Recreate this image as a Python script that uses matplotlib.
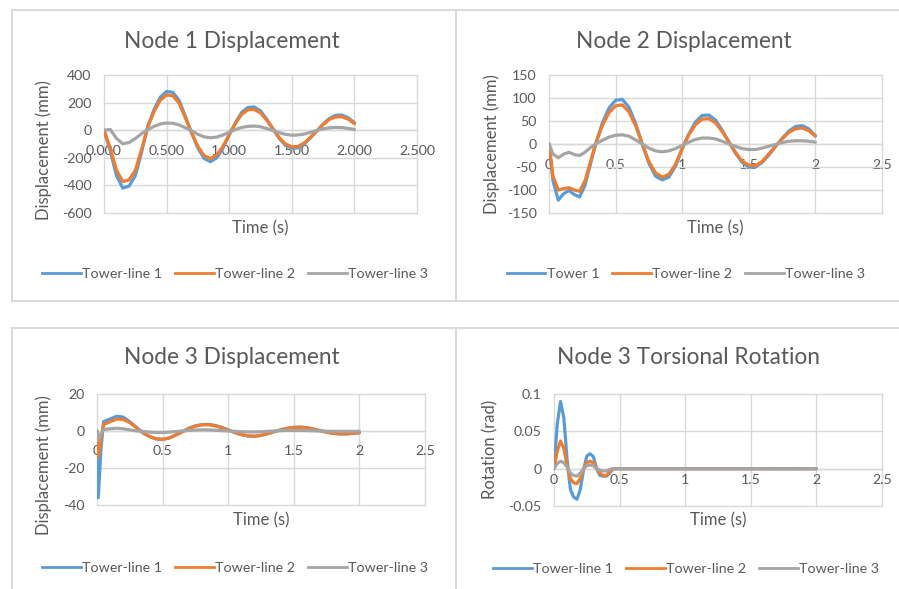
import matplotlib
matplotlib.use("Agg")
import matplotlib.pyplot as plt
from matplotlib.patches import Rectangle
from matplotlib.lines import Line2D
from matplotlib.ticker import FuncFormatter

plt.rcParams['font.family'] = ['Lato', 'DejaVu Sans']
plt.rcParams['axes.unicode_minus'] = False

W, H = 899, 589

# ---------------- data ----------------
series_names_a = ["Tower-line 1", "Tower-line 2", "Tower-line 3"]
series_names_b = ["Tower 1", "Tower-line 2", "Tower-line 3"]

t_node1 = [0.00, 0.05, 0.10, 0.15, 0.20, 0.25, 0.30, 0.35, 0.40, 0.45,
           0.50, 0.55, 0.60, 0.65, 0.70, 0.75, 0.80, 0.85, 0.90, 0.95,
           1.00, 1.05, 1.10, 1.15, 1.20, 1.25, 1.30, 1.35, 1.40, 1.45,
           1.50, 1.55, 1.60, 1.65, 1.70, 1.75, 1.80, 1.85, 1.90, 1.95, 2.00]
n1_tl1 = [0, -150, -330, -420, -405, -330, -160, 30, 150, 240,
          280, 275, 215, 100, -20, -130, -205, -228, -200, -130,
          -35, 55, 130, 165, 168, 140, 80, 10, -60, -110,
          -130, -128, -100, -55, -5, 45, 85, 108, 110, 90, 55]
n1_tl2 = [0, -130, -290, -372, -360, -290, -140, 25, 135, 218,
          255, 250, 195, 90, -20, -118, -185, -205, -180, -117,
          -32, 50, 115, 148, 150, 125, 72, 8, -55, -100,
          -120, -118, -92, -50, -5, 40, 78, 96, 97, 80, 48]
n1_tl3 = [0, 5, -60, -98, -90, -60, -25, 5, 28, 45,
          52, 50, 38, 18, -5, -30, -48, -55, -50, -35,
          -15, 5, 20, 28, 30, 25, 12, -3, -18, -30,
          -36, -35, -28, -15, -2, 10, 17, 20, 19, 13, 5]

t_node2 = [0.00, 0.03, 0.07, 0.11, 0.15, 0.19, 0.23, 0.27, 0.31, 0.35,
           0.40, 0.45, 0.50, 0.55, 0.60, 0.65, 0.70, 0.75, 0.80, 0.85,
           0.90, 0.95, 1.00, 1.05, 1.10, 1.15, 1.20, 1.25, 1.30, 1.35,
           1.40, 1.45, 1.50, 1.55, 1.60, 1.65, 1.70, 1.75, 1.80, 1.85,
           1.90, 1.95, 2.00]
n2_tl1 = [0, -80, -122, -108, -101, -110, -115, -90, -45, 0,
          45, 78, 95, 97, 80, 45, 0, -42, -70, -78,
          -72, -48, -10, 22, 48, 62, 63, 52, 30, 5,
          -20, -40, -50, -50, -40, -24, -6, 12, 28, 38,
          40, 33, 18]
n2_tl2 = [0, -70, -100, -97, -95, -100, -103, -80, -40, 0,
          40, 68, 83, 85, 70, 40, 0, -38, -63, -72,
          -66, -44, -10, 20, 42, 54, 55, 46, 27, 5,
          -18, -37, -46, -47, -38, -22, -5, 11, 25, 33,
          35, 29, 17]
n2_tl3 = [0, -22, -30, -22, -18, -23, -25, -18, -8, 0,
          8, 15, 19, 20, 17, 9, 0, -9, -15, -17,
          -15, -10, -3, 4, 10, 13, 13, 11, 6, 0,
          -5, -10, -12, -12, -9, -5, -1, 3, 6, 7,
          7, 6, 4]

t_node3 = [0.00, 0.01, 0.03, 0.05, 0.10, 0.15, 0.20, 0.25, 0.30, 0.35,
           0.40, 0.45, 0.50, 0.55, 0.60, 0.65, 0.70, 0.75, 0.80, 0.85,
           0.90, 0.95, 1.00, 1.05, 1.10, 1.15, 1.20, 1.25, 1.30, 1.35,
           1.40, 1.45, 1.50, 1.55, 1.60, 1.65, 1.70, 1.75, 1.80, 1.85,
           1.90, 1.95, 2.00]
n3_tl1 = [0, -36, -10, 5, 6.5, 8, 7.5, 5, 2, -1,
          -3, -4.3, -4.5, -3.8, -2.2, -0.3, 1.5, 2.8, 3.5, 3.6,
          3.0, 2.0, 0.6, -0.8, -2.0, -2.7, -2.9, -2.4, -1.5, -0.4,
          0.6, 1.5, 2.0, 2.1, 1.8, 1.1, 0.2, -0.7, -1.3, -1.6,
          -1.6, -1.3, -1.0]
n3_tl2 = [0, -14, -4, 3.5, 5, 6.5, 6.2, 4.5, 1.8, -1,
          -3, -4.2, -4.5, -3.8, -2.2, -0.5, 1.3, 2.6, 3.3, 3.4,
          2.8, 1.8, 0.5, -0.8, -1.9, -2.6, -2.8, -2.3, -1.4, -0.4,
          0.6, 1.4, 1.9, 2.0, 1.7, 1.0, 0.2, -0.6, -1.2, -1.5,
          -1.5, -1.2, -0.9]
n3_tl3 = [0, -5, -1.5, 0.8, 1.2, 1.5, 1.2, 0.6, 0.1, -0.3,
          -0.6, -0.8, -0.8, -0.6, -0.3, 0, 0.3, 0.5, 0.6, 0.6,
          0.4, 0.2, 0, -0.2, -0.4, -0.5, -0.5, -0.4, -0.2, 0,
          0.2, 0.3, 0.3, 0.3, 0.2, 0.1, 0, -0.1, -0.2, -0.2,
          -0.2, -0.2, -0.1]

t_rot = [0.000, 0.025, 0.050, 0.075, 0.100, 0.125, 0.150, 0.175, 0.200, 0.225,
         0.250, 0.275, 0.300, 0.325, 0.350, 0.375, 0.400, 0.425, 0.450, 0.500, 2.000]
rot_tl1 = [0, 0.06, 0.09, 0.068, 0.012, -0.028, -0.038, -0.041, -0.028, -0.002,
           0.017, 0.02, 0.016, 0.0, -0.009, -0.01, -0.01, -0.006, 0, 0, 0]
rot_tl2 = [0, 0.024, 0.037, 0.027, 0.004, -0.013, -0.019, -0.02, -0.013, 0.0,
           0.008, 0.01, 0.008, 0.0, -0.006, -0.009, -0.009, -0.004, 0, 0, 0]
rot_tl3 = [0, 0.007, 0.01, 0.008, 0.002, -0.006, -0.009, -0.01, -0.006, 0.0,
           0.004, 0.005, 0.004, 0.0, -0.002, -0.003, -0.003, -0.001, 0, 0, 0]

titles = ["Node 1 Displacement", "Node 2 Displacement",
          "Node 3 Displacement", "Node 3 Torsional Rotation"]
ylabels = ["Displacement (mm)", "Displacement (mm)",
           "Displacement (mm)", "Rotation (rad)"]
xlabel = "Time (s)"

xticks_all = [0, 0.5, 1.0, 1.5, 2.0, 2.5]
yticks_n1 = [-600, -400, -200, 0, 200, 400]
yticks_n2 = [-150, -100, -50, 0, 50, 100, 150]
yticks_n3 = [-40, -20, 0, 20]
yticks_rot = [-0.05, 0, 0.05, 0.1]

colors = ["#5B9BD5", "#ED7D31", "#A5A5A5"]
TXT = "#595959"
GRID = "#D9D9D9"

fig = plt.figure(figsize=(W / 100, H / 100), dpi=100)
fig.patch.set_facecolor("white")

def fx(x):
    return x / W

def fy(y):
    return 1 - y / H

# chart-area borders
for (x0, y0, x1, y1) in [(12, 10, 456, 301), (456, 10, 905, 301),
                         (12, 328, 456, 600), (456, 328, 905, 600)]:
    fig.patches.append(Rectangle((fx(x0), fy(y1)), fx(x1) - fx(x0), fy(y0) - fy(y1),
                                 transform=fig.transFigure, fill=False,
                                 ec=GRID, lw=1.4, zorder=0))

panels = [
    dict(box=(104, 75, 417, 213), t=t_node1, ys=[n1_tl1, n1_tl2, n1_tl3],
         yt=yticks_n1, xfmt="%.3f", names=series_names_a, xpad=11,
         title_xy=(232, 41), ylab_xy=(44, 150), xlab_y=228, leg_xy=(235, 274)),
    dict(box=(549, 75, 882, 213), t=t_node2, ys=[n2_tl1, n2_tl2, n2_tl3],
         yt=yticks_n2, xfmt="%g", names=series_names_b, xpad=11,
         title_xy=(684, 41), ylab_xy=(492, 144), xlab_y=228, leg_xy=(686, 274)),
    dict(box=(97, 394, 425, 505), t=t_node3, ys=[n3_tl1, n3_tl2, n3_tl3],
         yt=yticks_n3, xfmt="%g", names=series_names_a, xpad=10,
         title_xy=(232, 358), ylab_xy=(44, 465), xlab_y=520, leg_xy=(235, 568)),
    dict(box=(554, 394, 882, 506), t=t_rot, ys=[rot_tl1, rot_tl2, rot_tl3],
         yt=yticks_rot, xfmt="%g", names=series_names_a, xpad=4,
         title_xy=(688, 358), ylab_xy=(490, 449), xlab_y=520, leg_xy=(686, 569)),
]

for i, p in enumerate(panels):
    x0, y0, x1, y1 = p["box"]
    ax = fig.add_axes([fx(x0), fy(y1), fx(x1) - fx(x0), fy(y0) - fy(y1)])
    for k in range(3):
        ax.plot(p["t"], p["ys"][k], color=colors[k], lw=2.3,
                solid_joinstyle="round", solid_capstyle="round",
                label=p["names"][k], zorder=3 + k)
    ax.set_xlim(0, 2.5)
    ax.set_ylim(p["yt"][0], p["yt"][-1])
    ax.set_xticks(xticks_all)
    ax.set_yticks(p["yt"])
    fmt = p["xfmt"]
    ax.xaxis.set_major_formatter(FuncFormatter(lambda v, pos, f=fmt: f % v))
    ax.yaxis.set_major_formatter(FuncFormatter(lambda v, pos: "%g" % v))
    for s in ["top", "right", "left"]:
        ax.spines[s].set_visible(False)
    ax.spines["bottom"].set_position(("data", 0))
    ax.spines["bottom"].set_color(GRID)
    ax.spines["bottom"].set_linewidth(1.0)
    ax.grid(True, color=GRID, lw=1.0, zorder=0)
    ax.set_axisbelow(True)
    for gl in ax.get_xgridlines() + ax.get_ygridlines():
        gl.set_clip_on(False)
    ax.tick_params(axis="x", length=0, pad=p["xpad"], labelsize=10.2, labelcolor=TXT)
    ax.tick_params(axis="y", length=0, pad=9, labelsize=10.2, labelcolor=TXT)
    ax.set_facecolor("none")

    tx, ty = p["title_xy"]
    fig.text(fx(tx), fy(ty), titles[i], ha="center", va="center",
             fontsize=16.3, color=TXT)
    lx, ly = p["ylab_xy"]
    fig.text(fx(lx), fy(ly), ylabels[i], ha="center", va="center",
             rotation=90, fontsize=12, color=TXT)
    fig.text(fx((x0 + x1) / 2), fy(p["xlab_y"]), xlabel, ha="center", va="center",
             fontsize=12, color=TXT)
    gx, gy = p["leg_xy"]
    handles = [Line2D([], [], color=colors[k], lw=2.0) for k in range(3)]
    fig.legend(handles=handles, labels=p["names"], loc="center",
               bbox_to_anchor=(fx(gx), fy(gy)),
               ncol=3, frameon=False, fontsize=10.3, labelcolor=TXT,
               handlelength=2.7, handletextpad=0.1, columnspacing=0.9,
               borderpad=0, borderaxespad=0)

fig.savefig("out.png", dpi=100, facecolor="white")
